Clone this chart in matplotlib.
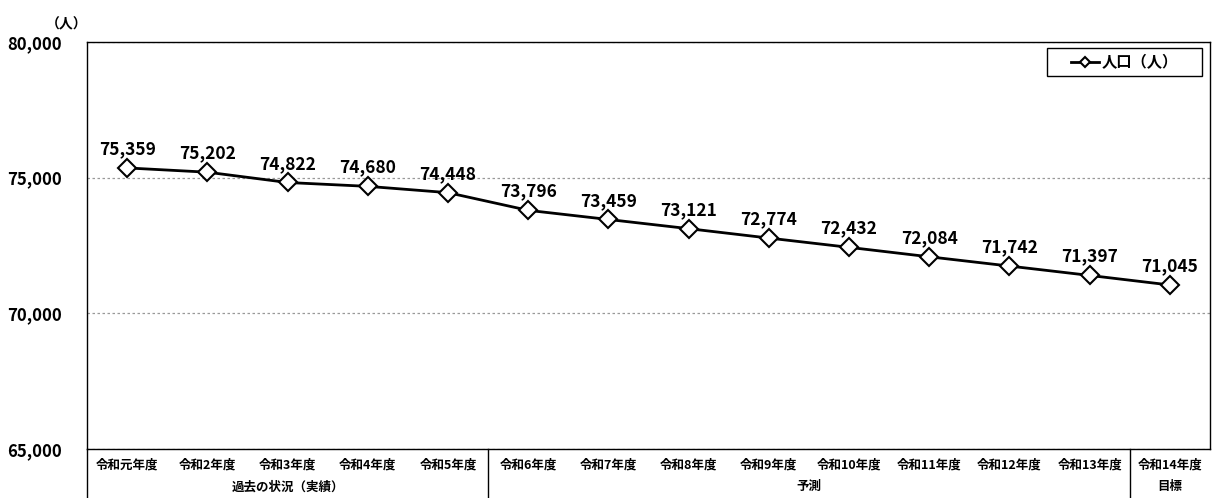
import matplotlib
matplotlib.use("Agg")
import matplotlib.pyplot as plt
from matplotlib.patches import Rectangle

plt.rcParams['font.family'] = ['Noto Sans CJK JP', 'DejaVu Sans']
plt.rcParams['font.weight'] = 'bold'

# data
years = ['令和元年度', '令和2年度', '令和3年度', '令和4年度', '令和5年度',
         '令和6年度', '令和7年度', '令和8年度', '令和9年度', '令和10年度',
         '令和11年度', '令和12年度', '令和13年度', '令和14年度']
population = [75359, 75202, 74822, 74680, 74448, 73796, 73459, 73121,
              72774, 72432, 72084, 71742, 71397, 71045]
groups = ['過去の状況（実績）', '予測', '目標']
group_sizes = [5, 8, 1]
y_ticks = [65000, 70000, 75000, 80000]

fig = plt.figure(figsize=(12.12, 4.98), dpi=100)
ax = fig.add_axes([87 / 1212, 49 / 498, 1123 / 1212, 407 / 498])

x = list(range(len(years)))
ax.plot(x, population, color='black', linewidth=2, marker='D', markersize=9,
        markerfacecolor='white', markeredgecolor='black', markeredgewidth=1.5,
        label='人口（人）', zorder=3)

for xi, v in zip(x, population):
    ax.annotate(f'{v:,}', (xi, v), xytext=(0, 7), textcoords='offset points',
                ha='center', va='bottom', fontsize=12.5, fontweight='bold')

ax.set_xlim(-0.5, len(years) - 0.5)
ax.set_ylim(65000, 80000)
ax.set_yticks(y_ticks)
ax.set_yticklabels([f'{t:,}' for t in y_ticks], fontsize=12, fontweight='bold')
ax.tick_params(axis='y', length=0, pad=18)
ax.set_xticks(x)
ax.set_xticklabels(years, fontsize=9, fontweight='bold')
ax.tick_params(axis='x', length=0, pad=7)
ax.yaxis.grid(True, linestyle=(0, (2, 2)), color='#999999', linewidth=0.9)
ax.set_axisbelow(True)
for s in ax.spines.values():
    s.set_linewidth(1.0)

# category separators below the axis
trans = ax.get_xaxis_transform()
ax.plot([-0.5, -0.5], [0, -0.125], color='black', linewidth=1.0,
        transform=trans, clip_on=False)
start = 0
for g, n in zip(groups, group_sizes):
    mid = start + (n - 1) / 2
    ax.text(mid, -0.093, g, transform=trans, ha='center', va='center',
            fontsize=9, fontweight='bold')
    start += n
    if start < len(years):
        ax.plot([start - 0.5, start - 0.5], [0, -0.125], color='black',
                linewidth=1.0, transform=trans, clip_on=False)

fig.text(67 / 1212, 1 - 24 / 498, '（人）', ha='center', va='center',
         fontsize=10, fontweight='bold')

# legend box
bx0, bx1 = (1047 - 87) / 1123, (1202 - 87) / 1123
by0, by1 = (449 - 76) / 407, (449 - 48) / 407
ax.add_patch(Rectangle((bx0, by0), bx1 - bx0, by1 - by0, transform=ax.transAxes,
                       facecolor='white', edgecolor='black', linewidth=1.0,
                       zorder=4))
leg = ax.legend(loc='center', bbox_to_anchor=((bx0 + bx1) / 2, (by0 + by1) / 2),
                frameon=False, fontsize=11, handlelength=1.8, markerscale=0.6,
                borderpad=0, handletextpad=0.2, borderaxespad=0)
leg.set_zorder(5)
for t in leg.get_texts():
    t.set_fontweight('bold')

fig.savefig('out.png', dpi=100)
